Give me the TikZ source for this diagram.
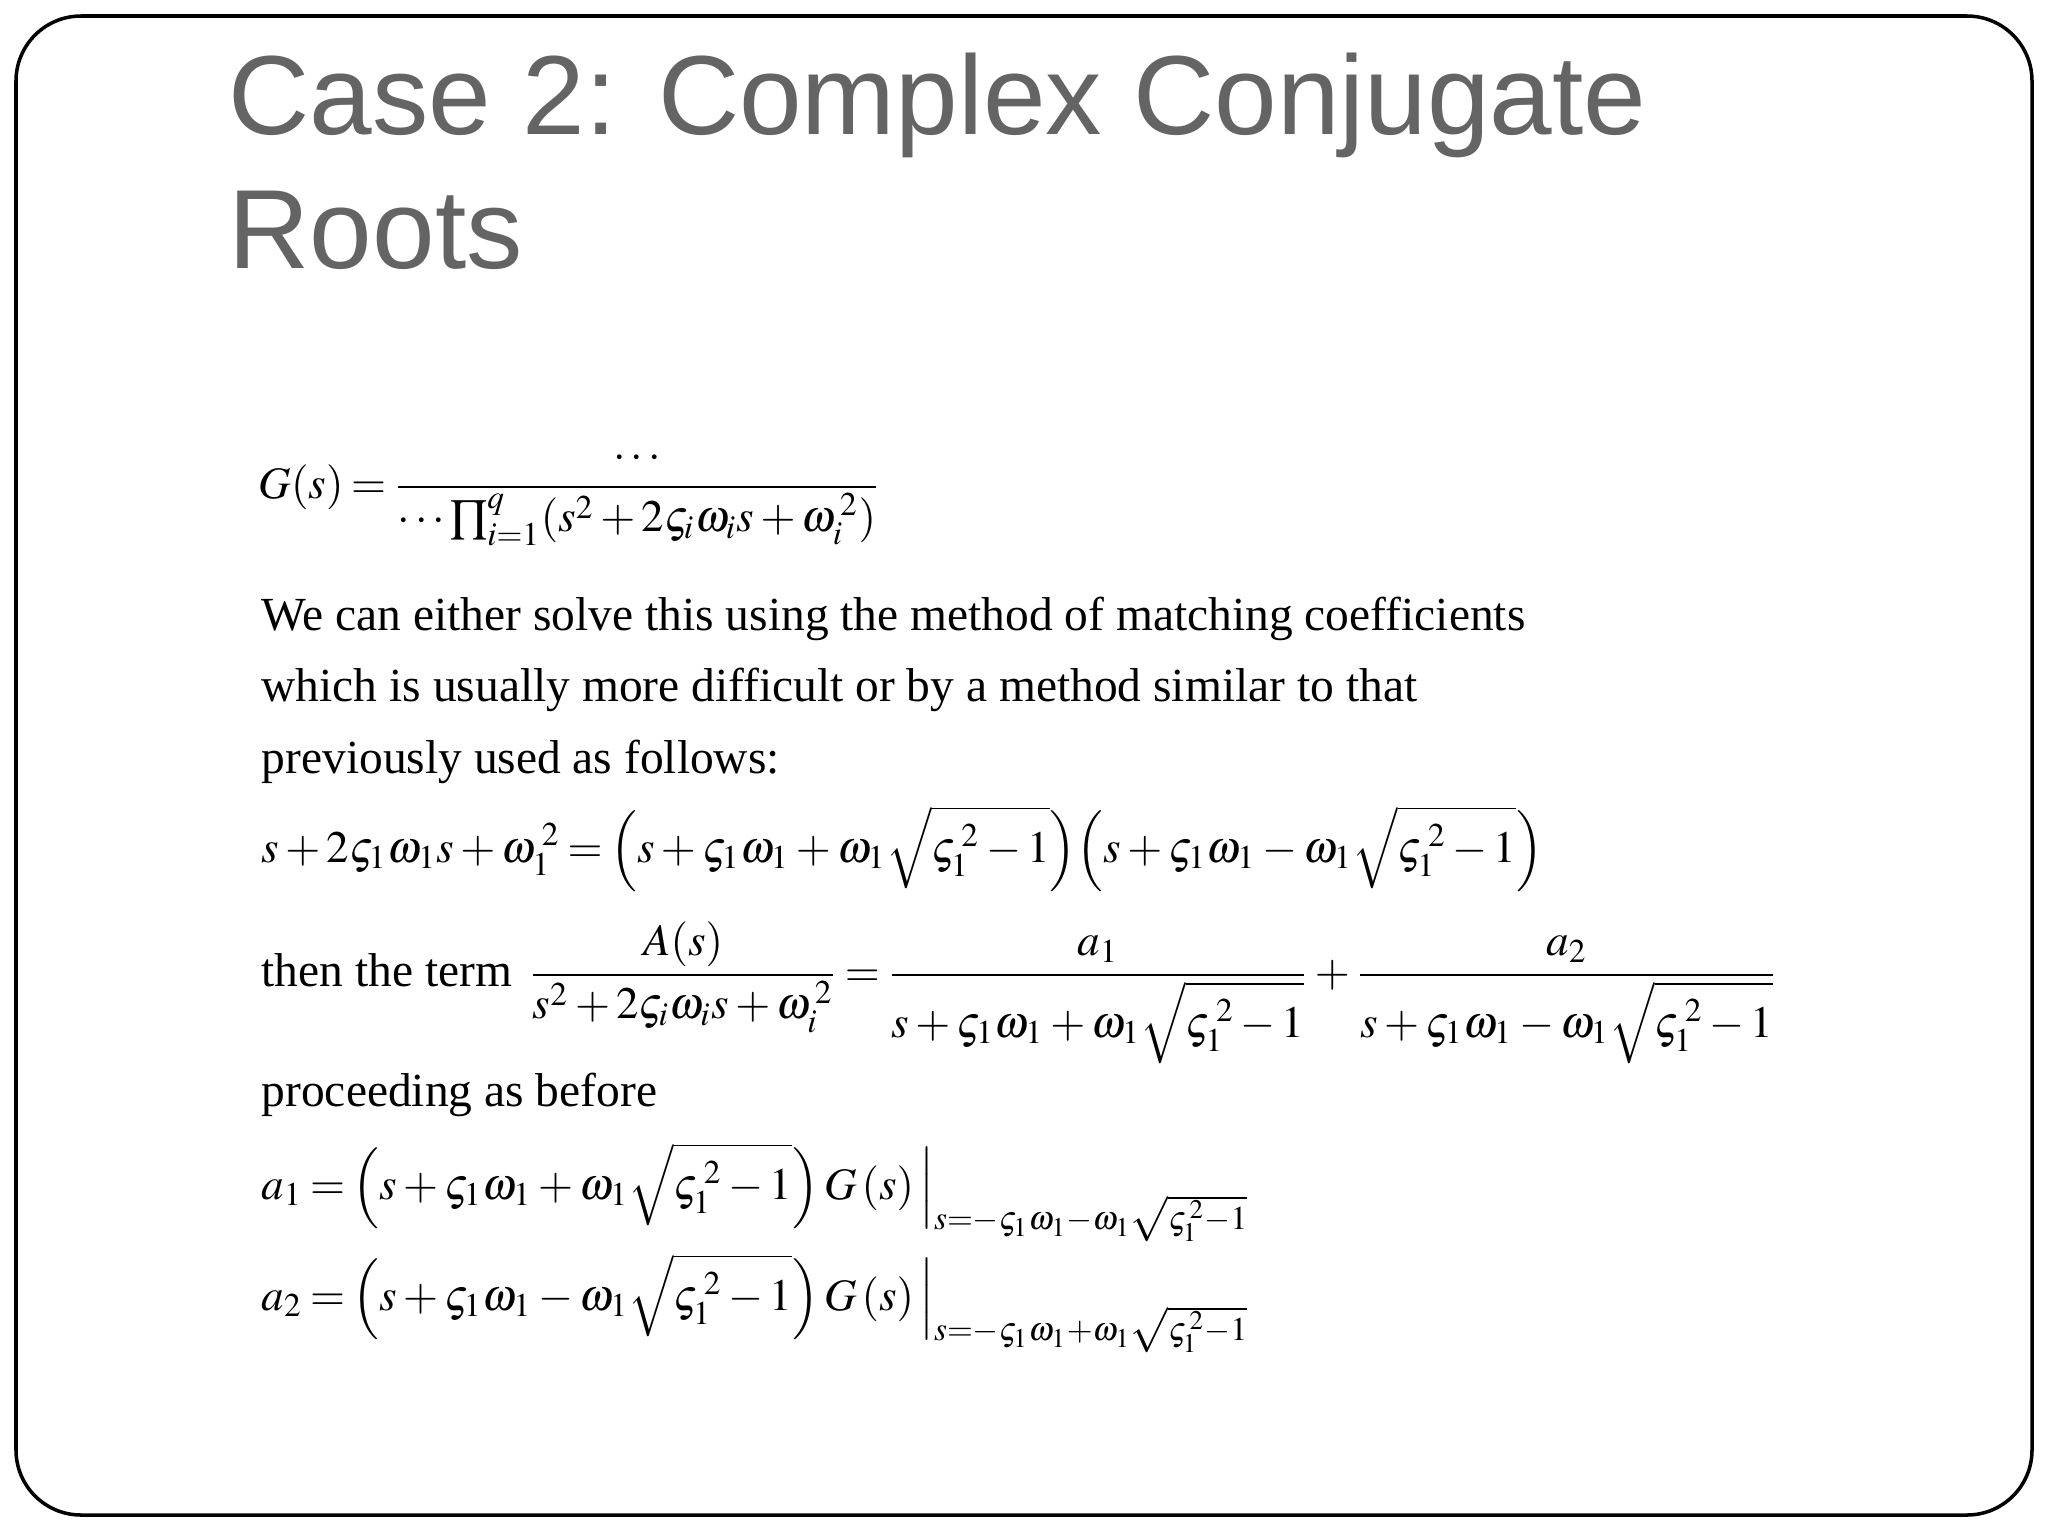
\documentclass[tikz,border=0pt]{standalone}
\usepackage{amsmath}
\usepackage{mathptmx}
\usepackage[no-math]{fontspec}
\setmainfont{Liberation Serif}
\newfontfamily\titlefont{Liberation Sans}
\definecolor{titlegrey}{RGB}{100,100,100}
\medmuskip=2.5mu plus 1mu
\thickmuskip=3mu plus 1mu
\begin{document}
\begin{tikzpicture}[x=0.01cm,y=-0.01cm,
  body/.style={anchor=base west,inner sep=0pt,font=\fontsize{13.5}{16}\selectfont},
  eq/.style={anchor=base west,inner sep=0pt,font=\fontsize{12.8}{15}\selectfont},
  ttl/.style={anchor=base west,inner sep=0pt,font=\titlefont\fontsize{32}{38}\selectfont,text=titlegrey}]
\useasboundingbox (0,0) rectangle (2048,1536);
\fill[white] (0,0) rectangle (2048,1536);
\draw[line width=1pt,rounded corners=0.65cm] (16,16) rectangle (2032,1515);
\node[ttl] (t1) at (228,134) {Case 2: Complex Conjugate};
\node[ttl] (t2) at (228,268) {Roots};
\node[eq,anchor=west] (g) at (258,497) {$G(s)=\dfrac{\cdots}{\cdots\prod_{i=1}^{q}(s^2+2\varsigma_i\omega_i s+\omega_i^{\,2})}$};
\node[body] (l1) at (261,630) {We can either solve this using the method of matching coefficients};
\node[body] (l2) at (261,701) {which is usually more difficult or by a method similar to that};
\node[body] (l3) at (261,773) {previously used as follows:};
\node[eq] (f) at (261,862) {$s+2\varsigma_1\omega_1 s+\omega_1^{\;2}=\left(s+\varsigma_1\omega_1+\omega_1\sqrt{\varsigma_1^{\;2}-1}\right)\!\left(s+\varsigma_1\omega_1-\omega_1\sqrt{\varsigma_1^{\;2}-1}\right)$};
\node[body] (tt) at (261,986) {then the term};
\node[eq] (tm) at (528,986) {$\dfrac{A(s)}{s^2+2\varsigma_i\omega_i s+\omega_i^{\,2}}=\dfrac{a_1}{s+\varsigma_1\omega_1+\omega_1\sqrt{\varsigma_1^{\;2}-1}}+\dfrac{a_2}{s+\varsigma_1\omega_1-\omega_1\sqrt{\varsigma_1^{\;2}-1}}$};
\node[body] (p) at (261,1106) {proceeding as before};
\node[eq] (a1) at (261,1199) {$a_1=\left(s+\varsigma_1\omega_1+\omega_1\sqrt{\varsigma_1^{\;2}-1}\right)G\left(s\right)\Big|_{s=-\varsigma_1\omega_1-\omega_1\sqrt{\varsigma_1^{\,2}-1}}$};
\node[eq] (a2) at (261,1310) {$a_2=\left(s+\varsigma_1\omega_1-\omega_1\sqrt{\varsigma_1^{\;2}-1}\right)G\left(s\right)\Big|_{s=-\varsigma_1\omega_1+\omega_1\sqrt{\varsigma_1^{\,2}-1}}$};
\end{tikzpicture}
\end{document}
